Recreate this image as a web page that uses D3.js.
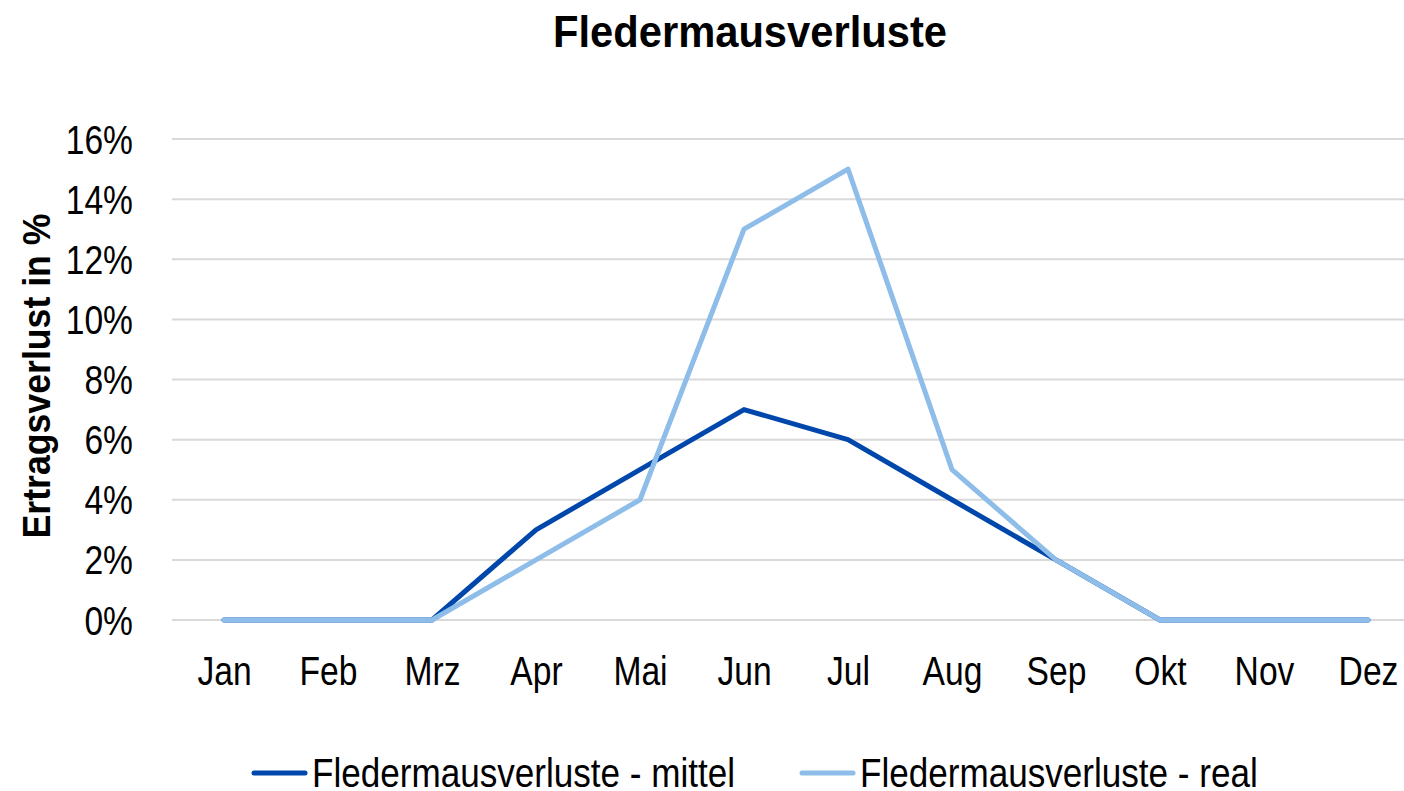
<!DOCTYPE html>
<html><head><meta charset="utf-8">
<script src="https://cdn.jsdelivr.net/npm/d3@7"></script>
<style>
body{margin:0;background:#fff;}
text{font-family:"Liberation Sans","Arial",sans-serif;}
</style></head>
<body>
<svg id="c" width="1404" height="791"></svg>
<script>
const months = ["Jan","Feb","Mrz","Apr","Mai","Jun","Jul","Aug","Sep","Okt","Nov","Dez"];
const mittel = [0,0,0,3,5,7,6,4,2,0,0,0];
const real = [0,0,0,2,4,13,15,5,2,0,0,0];
const yTicks = [0,2,4,6,8,10,12,14,16];
const seriesNames = ["Fledermausverluste - mittel","Fledermausverluste - real"];
const colors = ["#0047AB","#8DBDE8"];

(function(){
const svg = d3.select("#c");
const mLeft = 172, mRight = 1420, mTop = 139, mBottom = 620;
const x = d3.scalePoint().domain(months).range([mLeft, mRight]).padding(0.5);
const y = d3.scaleLinear().domain([0,16]).range([mBottom, mTop]);

function narrow(sel, f){
  sel.each(function(){
    const w = this.getComputedTextLength();
    d3.select(this).attr("textLength", w*f).attr("lengthAdjust","spacingAndGlyphs");
  });
}

svg.append("g").selectAll("line").data(yTicks).join("line")
  .attr("x1", mLeft).attr("x2", mRight)
  .attr("y1", d=>y(d)).attr("y2", d=>y(d))
  .attr("stroke", "#d9d9d9").attr("stroke-width", 2);

const yAxis = svg.append("g").attr("transform", `translate(${mLeft-39},0)`)
  .call(d3.axisLeft(y).tickValues(yTicks).tickFormat(d=>d+"%").tickSize(0).tickPadding(0));
yAxis.select(".domain").remove();
yAxis.selectAll("text").attr("font-size", 40).attr("fill", "#000").attr("dy","0.35em")
  .style("font-family", '"Liberation Sans",Arial,sans-serif');
narrow(yAxis.selectAll("text"), 0.84);

const xAxis = svg.append("g").attr("transform", `translate(0,${mBottom+37})`)
  .call(d3.axisBottom(x).tickSize(0).tickPadding(0));
xAxis.select(".domain").remove();
xAxis.selectAll("text").attr("font-size", 40).attr("fill", "#000").attr("dy","0.71em")
  .style("font-family", '"Liberation Sans",Arial,sans-serif');
narrow(xAxis.selectAll("text"), 0.84);

const line = d3.line().x((d,i)=>x(months[i])).y(d=>y(d));
[mittel, real].forEach((s,k)=>{
  svg.append("path").datum(s).attr("d", line)
    .attr("fill","none").attr("stroke", colors[k]).attr("stroke-width", 5)
    .attr("stroke-linejoin","round").attr("stroke-linecap","round");
});

svg.append("text").attr("x", 750).attr("y", 47).attr("text-anchor","middle")
  .attr("font-size", 45).attr("font-weight","bold")
  .attr("textLength", 394).attr("lengthAdjust","spacingAndGlyphs")
  .text("Fledermausverluste");

svg.append("text").attr("transform", "translate(50,376) rotate(-90)")
  .attr("text-anchor","middle").attr("font-size", 39).attr("font-weight","bold")
  .attr("textLength", 325).attr("lengthAdjust","spacingAndGlyphs")
  .text("Ertragsverlust in %");

const legX = [252, 800];
seriesNames.forEach((n,k)=>{
  const g = svg.append("g").attr("transform", `translate(${legX[k]},773)`);
  g.append("line").attr("x1",2).attr("x2",53).attr("y1",0).attr("y2",0)
    .attr("stroke", colors[k]).attr("stroke-width",5).attr("stroke-linecap","round");
  const t = g.append("text").attr("x", 60).attr("y", 0).attr("dy","0.35em")
    .attr("font-size", 40).attr("fill","#000").text(n);
  narrow(t, 0.877);
});
})();
</script>
</body></html>
